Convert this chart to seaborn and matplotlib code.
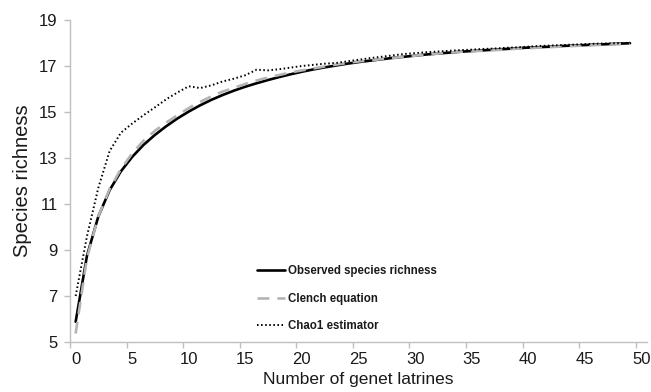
import matplotlib
matplotlib.use("Agg")
import matplotlib.pyplot as plt
import seaborn as sns
import pandas as pd
from matplotlib.ticker import FixedLocator

# ---- data ----
latrines = list(range(0, 50))
observed = [5.88, 8.75, 10.45, 11.6, 12.42, 13.05, 13.57, 14.0, 14.38, 14.72,
            15.02, 15.29, 15.53, 15.74, 15.93, 16.1, 16.25, 16.39, 16.52, 16.64,
            16.75, 16.85, 16.94, 17.02, 17.1, 17.17, 17.23, 17.29, 17.35, 17.4,
            17.45, 17.5, 17.54, 17.58, 17.62, 17.65, 17.68, 17.71, 17.74, 17.77,
            17.8, 17.82, 17.84, 17.87, 17.89, 17.91, 17.93, 17.95, 17.97, 17.99]
clench = [5.37, 8.65, 10.45, 11.65, 12.52, 13.2, 13.75, 14.18, 14.54, 14.86,
          15.17, 15.44, 15.68, 15.89, 16.05, 16.22, 16.37, 16.5, 16.61, 16.72,
          16.81, 16.89, 16.98, 17.06, 17.13, 17.2, 17.24, 17.3, 17.35, 17.4,
          17.45, 17.5, 17.54, 17.58, 17.62, 17.65, 17.66, 17.69, 17.72, 17.75,
          17.77, 17.8, 17.82, 17.85, 17.87, 17.89, 17.91, 17.93, 17.95, 17.97]
chao1 = [7.0, 9.6, 11.7, 13.3, 14.1, 14.5, 14.86, 15.2, 15.55, 15.85,
         16.12, 16.04, 16.16, 16.33, 16.45, 16.6, 16.84, 16.81, 16.86, 16.93,
         17.0, 17.05, 17.1, 17.13, 17.2, 17.27, 17.34, 17.4, 17.46, 17.52,
         17.56, 17.6, 17.63, 17.66, 17.69, 17.71, 17.74, 17.76, 17.79, 17.81,
         17.84, 17.87, 17.89, 17.91, 17.93, 17.95, 17.97, 17.98, 17.99, 18.01]
series_names = ["Observed species richness", "Clench equation", "Chao1 estimator"]
x_tick_labels = [0, 5, 10, 15, 20, 25, 30, 35, 40, 45, 50]
y_ticks = [5, 7, 9, 11, 13, 15, 17, 19]

df = pd.DataFrame({"n": latrines, "obs": observed, "clench": clench, "chao": chao1})

sns.set_style("white")
plt.rcParams["font.family"] = ["Liberation Sans", "DejaVu Sans"]

fig = plt.figure(figsize=(6.51, 3.92), dpi=100)
ax = fig.add_axes([70 / 651, 1 - 342 / 392, 577 / 651, 322 / 392])

sns.lineplot(data=df, x="n", y="obs", ax=ax, color="black", linewidth=1.9,
             label=series_names[0])
sns.lineplot(data=df, x="n", y="clench", ax=ax, color="#b4b4b4", linewidth=1.9,
             label=series_names[1])
sns.lineplot(data=df, x="n", y="chao", ax=ax, color="black", linewidth=1.4,
             label=series_names[2])
lines = ax.get_lines()
lines[1].set_dashes((4.5, 3.0))
lines[2].set_dashes((0.8, 1.3))

ax.set_xlim(-0.5, 50.5)
ax.set_ylim(5, 19)

gray = "#bfbfbf"
for s in ["top", "right"]:
    ax.spines[s].set_visible(False)
for s in ["left", "bottom"]:
    ax.spines[s].set_color(gray)
    ax.spines[s].set_linewidth(1.0)

ax.set_yticks(y_ticks)
ax.set_yticklabels([str(v) for v in y_ticks])
ax.set_xticks(x_tick_labels)
ax.set_xticklabels([str(v) for v in x_tick_labels])
ax.xaxis.set_minor_locator(FixedLocator([v - 0.5 for v in x_tick_labels]))
ax.tick_params(axis="x", which="major", length=0, pad=7, labelsize=12, labelcolor="#1a1a1a")
ax.tick_params(axis="x", which="minor", length=4, width=1, color=gray, direction="out", bottom=True)
ax.tick_params(axis="y", which="major", length=4, width=1, color=gray, direction="out",
               left=True, pad=5, labelsize=12, labelcolor="#1a1a1a")

ax.set_xlabel("Number of genet latrines", fontsize=12.5, color="#1a1a1a", labelpad=4)
ax.set_ylabel("Species richness", fontsize=14.5, color="#1a1a1a", labelpad=5)

leg = ax.legend(loc="upper left", bbox_to_anchor=(257 / 651, 1 - 265 / 392),
                bbox_transform=fig.transFigure, frameon=False, borderpad=0,
                borderaxespad=0, handlelength=2.45, handletextpad=0.25,
                labelspacing=1.35, prop={"weight": "bold", "size": 8.3})
for t in leg.get_texts():
    t.set_color("#1a1a1a")

fig.savefig("out.png", dpi=100)
